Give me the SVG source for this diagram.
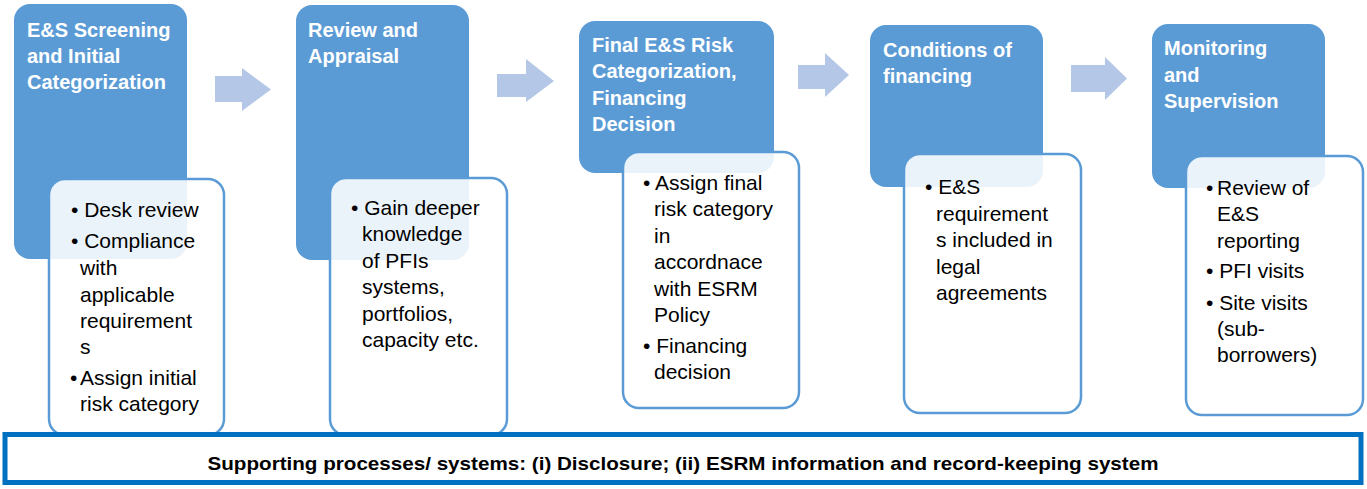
<svg xmlns="http://www.w3.org/2000/svg" width="1367" height="489" viewBox="0 0 1367 489">
<style>
.stage{fill:#5b9bd5}
.detail{fill:#ffffff;fill-opacity:0.88;stroke:#5b9bd5;stroke-width:2.5}
.arrow{fill:#b4c7e7}
.title{font-family:"Liberation Sans",Arial,sans-serif;font-weight:bold;font-size:20px;fill:#ffffff}
.body{font-family:"Liberation Sans",Arial,sans-serif;font-size:21px;fill:#000000}
.bar{fill:#ffffff;stroke:#0070c0;stroke-width:5}
.bartext{font-family:"Liberation Sans",Arial,sans-serif;font-weight:bold;font-size:19px;fill:#000000}
</style>
<rect width="1367" height="489" fill="#ffffff"/>
<g id="connectors">
<polygon class="arrow" points="215,76 242,76 242,68 271,89.5 242,111 242,102 215,102"/>
<polygon class="arrow" points="497,74 526,74 526,59 554,81 526,102 526,97 497,97"/>
<polygon class="arrow" points="798,65 825,65 825,53 849,75 825,97 825,89 798,89"/>
<polygon class="arrow" points="1071,65 1105,65 1105,57 1127,78.5 1105,100 1105,92 1071,92"/>
</g>
<g id="stage1">
<rect class="stage" x="14" y="4" width="173" height="255" rx="16"/>
<rect class="detail" x="49" y="179" width="175" height="256" rx="16"/>
<text class="title" x="27" y="37">E&amp;S Screening</text>
<text class="title" x="27" y="63">and Initial</text>
<text class="title" x="27" y="89">Categorization</text>
<text class="body" x="71" y="217">• Desk review</text>
<text class="body" x="71" y="248">• Compliance</text>
<text class="body" x="80" y="275">with</text>
<text class="body" x="80" y="302">applicable</text>
<text class="body" x="80" y="328">requirement</text>
<text class="body" x="80" y="354">s</text>
<text class="body" x="70" y="385">•</text>
<text class="body" x="80" y="385">Assign initial</text>
<text class="body" x="80" y="411">risk category</text>
</g>
<g id="stage2">
<rect class="stage" x="296" y="5" width="173" height="255" rx="16"/>
<rect class="detail" x="330" y="178" width="177" height="257" rx="16"/>
<text class="title" x="308" y="37">Review and</text>
<text class="title" x="308" y="63">Appraisal</text>
<text class="body" x="351" y="215">• Gain deeper</text>
<text class="body" x="362" y="241">knowledge</text>
<text class="body" x="362" y="268">of PFIs</text>
<text class="body" x="362" y="294">systems,</text>
<text class="body" x="362" y="321">portfolios,</text>
<text class="body" x="362" y="347">capacity etc.</text>
</g>
<g id="stage3">
<rect class="stage" x="579" y="21" width="195" height="152" rx="16"/>
<rect class="detail" x="623" y="152" width="176" height="256" rx="16"/>
<text class="title" x="592" y="52">Final E&amp;S Risk</text>
<text class="title" x="592" y="78">Categorization,</text>
<text class="title" x="592" y="105">Financing</text>
<text class="title" x="592" y="131">Decision</text>
<text class="body" x="643" y="190">• Assign final</text>
<text class="body" x="654" y="216">risk category</text>
<text class="body" x="654" y="243">in</text>
<text class="body" x="654" y="269">accordnace</text>
<text class="body" x="654" y="296">with ESRM</text>
<text class="body" x="654" y="322">Policy</text>
<text class="body" x="643" y="353">• Financing</text>
<text class="body" x="654" y="379">decision</text>
</g>
<g id="stage4">
<rect class="stage" x="870" y="25" width="173" height="162" rx="16"/>
<rect class="detail" x="904" y="154" width="177" height="259" rx="16"/>
<text class="title" x="883" y="57">Conditions of</text>
<text class="title" x="883" y="83">financing</text>
<text class="body" x="925" y="194">• E&amp;S</text>
<text class="body" x="936" y="221">requirement</text>
<text class="body" x="936" y="247">s included in</text>
<text class="body" x="936" y="274">legal</text>
<text class="body" x="936" y="300">agreements</text>
</g>
<g id="stage5">
<rect class="stage" x="1152" y="24" width="173" height="164" rx="16"/>
<rect class="detail" x="1186" y="156" width="177" height="259" rx="16"/>
<text class="title" x="1164" y="55">Monitoring</text>
<text class="title" x="1164" y="82">and</text>
<text class="title" x="1164" y="108">Supervision</text>
<text class="body" x="1206" y="195">•</text>
<text class="body" x="1217" y="195">Review of</text>
<text class="body" x="1217" y="221">E&amp;S</text>
<text class="body" x="1217" y="248">reporting</text>
<text class="body" x="1206" y="278">• PFI visits</text>
<text class="body" x="1206" y="310">• Site visits</text>
<text class="body" x="1217" y="336">(sub-</text>
<text class="body" x="1217" y="362">borrowers)</text>
</g>
<g id="support">
<rect class="bar" x="5" y="434.5" width="1356" height="48"/>
<text class="bartext" x="683" y="470" text-anchor="middle" textLength="951" lengthAdjust="spacingAndGlyphs">Supporting processes/ systems: (i) Disclosure; (ii) ESRM information and record-keeping system</text>
</g>
</svg>
